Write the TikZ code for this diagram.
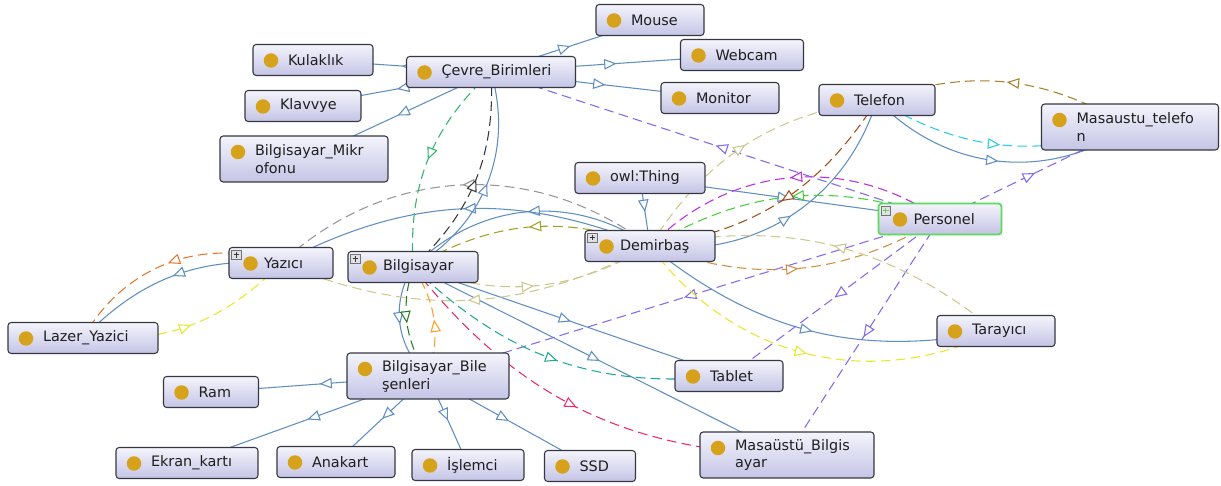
\documentclass[tikz,border=0pt]{standalone}
\usepackage{fontspec}
\newfontfamily\ontofont{DejaVu Sans}
\usetikzlibrary{arrows.meta,decorations.markings,backgrounds}

\definecolor{boxtop}{RGB}{244,244,252}
\definecolor{boxbot}{RGB}{196,196,230}
\definecolor{boxline}{RGB}{55,55,65}
\definecolor{dotcol}{RGB}{214,162,28}
\definecolor{isacol}{RGB}{95,142,192}
\definecolor{selgreen}{RGB}{90,220,90}
\definecolor{plusfill}{RGB}{225,225,228}
\definecolor{relviolet}{RGB}{130,105,240}
\definecolor{relmagenta}{RGB}{185,45,230}
\definecolor{relgreen}{RGB}{70,205,60}
\definecolor{relorange}{RGB}{210,140,60}
\definecolor{relbrown}{RGB}{165,75,25}
\definecolor{relkhaki}{RGB}{205,200,140}
\definecolor{relyellow}{RGB}{232,232,40}
\definecolor{relolive}{RGB}{165,160,40}
\definecolor{relgray}{RGB}{150,150,150}
\definecolor{relblack}{RGB}{55,55,55}
\definecolor{relmint}{RGB}{50,180,110}
\definecolor{reldkgreen}{RGB}{35,125,35}
\definecolor{relamber}{RGB}{255,160,40}
\definecolor{relpink}{RGB}{235,40,110}
\definecolor{relteal}{RGB}{30,170,150}
\definecolor{relrust}{RGB}{225,120,45}
\definecolor{relcyan}{RGB}{40,205,235}
\definecolor{relochre}{RGB}{170,130,40}

\begin{document}
\begin{tikzpicture}[x=0.02cm, y=0.02cm,
    tri/.tip={Triangle[fill=white, length=7pt, width=6pt]},
    midarrow/.style={postaction={decorate, decoration={markings, mark=at position 0.5 with {\arrow{tri}}}}},
    isa/.style={draw=isacol, line width=0.6pt, midarrow},
    rel/.style={draw=#1, line width=0.6pt, dash pattern=on 5.5pt off 3pt, midarrow},
    cls/.style={draw=boxline, line width=0.6pt, rounded corners=1.8pt, top color=boxtop, bottom color=boxbot,
        font=\ontofont\fontsize{8.2}{10.2}\selectfont, text=black!88, align=left,
        inner xsep=0.7cm, inner ysep=1pt, text width={(#1-70)*0.02cm}, minimum height=0.62cm,
        path picture={\fill[dotcol] ([shift={(0.36cm,-0.32cm)}]path picture bounding box.north west) circle (0.145cm);}},
    clsx/.style={cls=#1,
        path picture={\fill[dotcol] ([shift={(0.43cm,-0.32cm)}]path picture bounding box.north west) circle (0.145cm);
            \draw[draw=black!55, fill=plusfill, line width=0.4pt, sharp corners] ([shift={(0.05cm,-0.05cm)}]path picture bounding box.north west) rectangle ++(0.19cm,-0.19cm);
            \draw[line width=0.5pt] ([shift={(0.09cm,-0.145cm)}]path picture bounding box.north west) -- ++(0.11cm,0)
                ([shift={(0.145cm,-0.09cm)}]path picture bounding box.north west) -- ++(0,-0.11cm);}},
    tall/.style={minimum height=0.92cm}]

    \useasboundingbox (0,0) rectangle (1221,-486);

    \node[cls=108] (mouse) at (650,-20) {Mouse};
    \node[cls=120] (kulaklik) at (313,-60) {Kulaklık};
    \node[cls=169] (cevre) at (491,-72) {Çevre\_Birimleri};
    \node[cls=123] (webcam) at (742,-55) {Webcam};
    \node[cls=116] (klavvye) at (303,-106) {Klavvye};
    \node[cls=118] (monitor) at (720,-98) {Monitor};
    \node[cls=116] (telefon) at (877,-100) {Telefon};
    \node[cls=177, tall] (mtelefon) at (1130,-127) {Masaustu\_telefo\\n};
    \node[cls=168, tall] (mikrofon) at (304,-159) {Bilgisayar\_Mikr\\ofonu};
    \node[cls=130] (thing) at (640,-178) {owl:Thing};
    \node[clsx=123, draw=selgreen, line width=1pt] (personel) at (940,-219) {Personel};
    \node[clsx=130] (demirbas) at (650,-246) {Demirbaş};
    \node[clsx=104] (yazici) at (281,-263) {Yazıcı};
    \node[clsx=130] (bilgisayar) at (413,-267) {Bilgisayar};
    \node[cls=150] (lazer) at (83,-338) {Lazer\_Yazici};
    \node[cls=118] (tarayici) at (996,-331) {Tarayıcı};
    \node[cls=162, tall] (bbilesen) at (428,-376) {Bilgisayar\_Bile\\şenleri};
    \node[cls=95] (ram) at (211,-392) {Ram};
    \node[cls=108] (tablet) at (729,-376) {Tablet};
    \node[cls=174, tall] (masaustu) at (787,-455) {Masaüstü\_Bilgis\\ayar};
    \node[cls=142] (ekran) at (187,-463) {Ekran\_kartı};
    \node[cls=118] (anakart) at (336,-462) {Anakart};
    \node[cls=112] (islemci) at (468,-465) {İşlemci};
    \node[cls=91] (ssd) at (590,-466) {SSD};

    \begin{scope}[on background layer]
        \fill[white] (0,0) rectangle (1221,-486);

        % subclass links
        \draw[isa] (cevre.center) -- (kulaklik.center);
        \draw[isa] (cevre.center) -- (klavvye.center);
        \draw[isa] (cevre.center) -- (mikrofon.center);
        \draw[isa] (cevre.center) -- (mouse.center);
        \draw[isa] (cevre.center) -- (webcam.center);
        \draw[isa] (cevre.center) -- (monitor.center);
        \draw[isa] (thing.center) -- (demirbas.center);
        \draw[isa] (thing.center) -- (personel.center);
        \draw[isa] (demirbas.center) to[bend right=40] (telefon.center);
        \draw[isa] (demirbas.center) to[bend right=40] (bilgisayar.center);
        \draw[isa] (demirbas.center) to[bend right=25] (yazici.center);
        \draw[isa] (demirbas.center) to[bend right=25] (tarayici.center);
        \draw[isa] (bilgisayar.center) to[bend right=38] (cevre.center);
        \draw[isa] (bilgisayar.center) to[bend right=40] (bbilesen.center);
        \draw[isa] (bilgisayar.center) -- (tablet.center);
        \draw[isa] (bilgisayar.center) -- (masaustu.center);
        \draw[isa] (yazici.center) to[bend right=25] (lazer.center);
        \draw[isa] (telefon.center) to[bend right=40] (mtelefon.center);
        \draw[isa] (bbilesen.center) -- (ram.center);
        \draw[isa] (bbilesen.center) -- (ekran.center);
        \draw[isa] (bbilesen.center) -- (anakart.center);
        \draw[isa] (bbilesen.center) -- (islemci.center);
        \draw[isa] (bbilesen.center) -- (ssd.center);

        % object properties
        \draw[rel=relviolet] (personel.center) -- (cevre.center);
        \draw[rel=relviolet] (personel.center) -- (mtelefon.center);
        \draw[rel=relviolet] (personel.center) -- (bbilesen.center);
        \draw[rel=relviolet] (personel.center) -- (tablet.center);
        \draw[rel=relviolet] (personel.center) -- (masaustu.center);
        \draw[rel=relmagenta] (personel.center) to[bend right=40] (demirbas.center);
        \draw[rel=relgreen] (personel.center) to[bend right=25] (demirbas.center);
        \draw[rel=relorange] (demirbas.center) to[bend right=25] (personel.center);
        \draw[rel=relbrown] (telefon.center) to[bend left=25] (demirbas.center);
        \draw[rel=relkhaki] (demirbas.center) to[bend left=25] (telefon.center);
        \draw[rel=relkhaki] (tarayici.center) to[bend right=25] (demirbas.center);
        \draw[rel=relyellow] (demirbas.center) to[bend right=40] (tarayici.center);
        \draw[rel=relkhaki] (bilgisayar.center) to[bend right=25] (demirbas.center);
        \draw[rel=relolive] (demirbas.center) to[bend right=25] (bilgisayar.center);
        \draw[rel=relkhaki] (demirbas.center) to[bend left=25] (yazici.center);
        \draw[rel=relgray] (demirbas.center) to[bend right=40] (yazici.center);
        \draw[rel=relblack] (bilgisayar.center) to[bend right=25] (cevre.center);
        \draw[rel=relmint] (cevre.center) to[bend right=25] (bilgisayar.center);
        \draw[rel=reldkgreen] (bilgisayar.center) to[bend right=25] (bbilesen.center);
        \draw[rel=relamber] (bbilesen.center) to[bend right=25] (bilgisayar.center);
        \draw[rel=relteal] (bilgisayar.center) to[bend right=25] (tablet.center);
        \draw[rel=relpink] (bilgisayar.center) to[bend right=25] (masaustu.center);
        \draw[rel=relrust] (yazici.center) to[bend right=40] (lazer.center);
        \draw[rel=relyellow] (lazer.center) to[bend right=25] (yazici.center);
        \draw[rel=relcyan] (telefon.center) to[bend right=25] (mtelefon.center);
        \draw[rel=relochre] (mtelefon.center) to[bend right=25] (telefon.center);
    \end{scope}
\end{tikzpicture}
\end{document}
